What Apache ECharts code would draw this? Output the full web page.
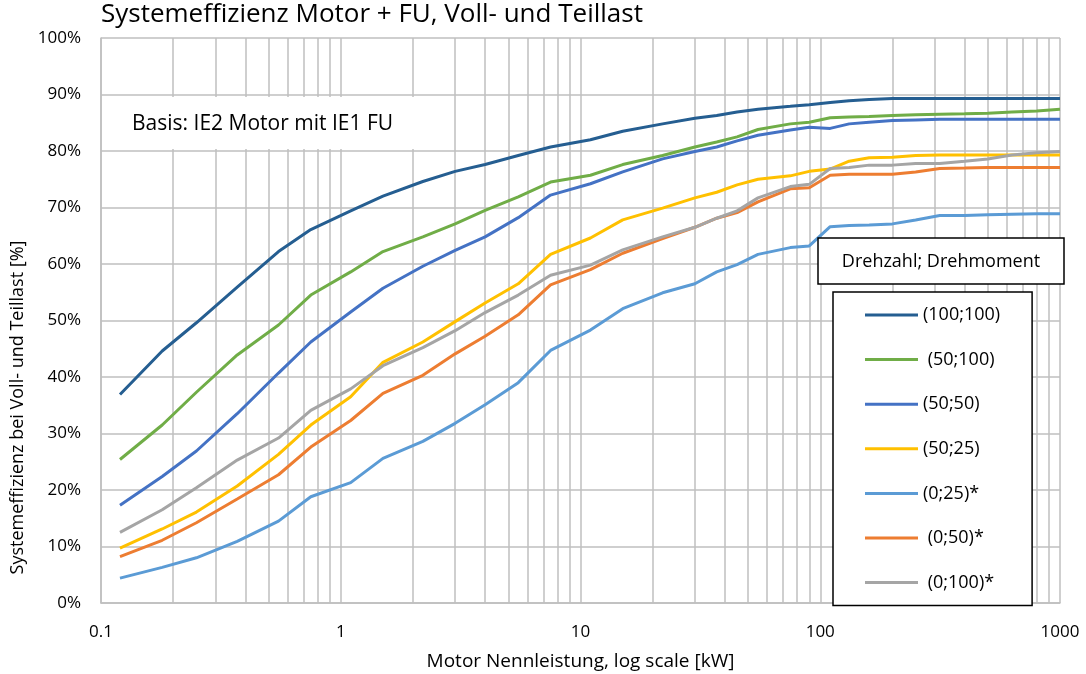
<!DOCTYPE html>
<html>
<head>
<meta charset="utf-8">
<script src="https://cdn.jsdelivr.net/npm/echarts@6/dist/echarts.min.js"></script>
<style>
  html, body { margin: 0; padding: 0; background: #fff; }
  #chart { width: 1086px; height: 674px; }
</style>
</head>
<body>
<div id="chart"></div>
<script>
// Motor-Nennleistung [kW]
const power = [0.12, 0.18, 0.25, 0.37, 0.55, 0.75, 1.1, 1.5, 2.2, 3, 4, 5.5, 7.5, 11, 15, 22, 30, 37, 45, 55, 75, 90, 110, 132, 160, 200, 250, 315, 400, 500, 630, 800, 1000];

// Systemeffizienz [%] je Betriebspunkt (Drehzahl; Drehmoment)
const eff100_100 = [36.9, 44.6, 49.6, 55.9, 62.2, 66.1, 69.4, 72.0, 74.6, 76.4, 77.6, 79.2, 80.7, 82.0, 83.5, 84.8, 85.8, 86.3, 86.9, 87.4, 87.9, 88.2, 88.6, 88.9, 89.1, 89.3, 89.3, 89.3, 89.3, 89.3, 89.3, 89.3, 89.3];
const eff50_100 = [25.4, 31.5, 37.3, 43.9, 49.2, 54.5, 58.6, 62.2, 64.8, 67.1, 69.5, 71.9, 74.5, 75.7, 77.6, 79.2, 80.7, 81.6, 82.5, 83.8, 84.8, 85.1, 85.9, 86.0, 86.1, 86.3, 86.4, 86.5, 86.6, 86.7, 86.9, 87.1, 87.4];
const eff50_50 = [17.3, 22.4, 26.9, 33.5, 40.7, 46.2, 51.5, 55.7, 59.6, 62.4, 64.8, 68.2, 72.2, 74.2, 76.3, 78.6, 79.9, 80.7, 81.8, 82.8, 83.7, 84.2, 84.0, 84.8, 85.1, 85.4, 85.5, 85.6, 85.6, 85.6, 85.6, 85.6, 85.6];
const eff50_25 = [9.7, 13.1, 16.1, 20.7, 26.3, 31.5, 36.5, 42.6, 46.2, 49.8, 53.1, 56.5, 61.7, 64.6, 67.8, 69.9, 71.7, 72.7, 74.0, 75.0, 75.6, 76.4, 76.8, 78.2, 78.8, 78.9, 79.2, 79.3, 79.3, 79.3, 79.3, 79.3, 79.3];
const eff0_25 = [4.4, 6.3, 8.0, 10.9, 14.5, 18.8, 21.3, 25.6, 28.6, 31.8, 35.1, 39.0, 44.7, 48.3, 52.1, 54.9, 56.5, 58.6, 59.9, 61.7, 62.9, 63.2, 66.6, 66.8, 66.9, 67.1, 67.8, 68.6, 68.6, 68.7, 68.8, 68.9, 68.9];
const eff0_50 = [8.2, 11.1, 14.2, 18.4, 22.7, 27.6, 32.3, 37.1, 40.3, 44.1, 47.2, 51.0, 56.3, 59.0, 61.9, 64.5, 66.5, 68.1, 69.1, 71.0, 73.3, 73.5, 75.7, 75.9, 75.9, 75.9, 76.3, 76.9, 77.0, 77.1, 77.1, 77.1, 77.1];
const eff0_100 = [12.5, 16.5, 20.4, 25.3, 29.2, 34.1, 37.9, 42.0, 45.2, 48.2, 51.4, 54.5, 58.0, 59.8, 62.5, 64.8, 66.5, 68.1, 69.4, 71.7, 73.7, 74.1, 76.9, 77.1, 77.5, 77.5, 77.8, 77.8, 78.2, 78.6, 79.3, 79.7, 79.9];

const seriesNames = ['(100;100)', ' (50;100)', '(50;50)', '(50;25)', '(0;25)*', ' (0;50)*', ' (0;100)*'];
const seriesValues = [eff100_100, eff50_100, eff50_50, eff50_25, eff0_25, eff0_50, eff0_100];
const seriesColors = ['#255E91', '#70AD47', '#4472C4', '#FFC000', '#5B9BD5', '#ED7D31', '#A5A5A5'];

// Zwischenlinien der log. Achse (2..9 je Dekade)
const minorTicks = [0.2, 0.3, 0.4, 0.5, 0.6, 0.7, 0.8, 0.9, 2, 3, 4, 5, 6, 7, 8, 9, 20, 30, 40, 50, 60, 70, 80, 90, 200, 300, 400, 500, 600, 700, 800, 900];

const FONT = 'Open Sans';
const gridColor = '#BFBFBF';

const chart = echarts.init(document.getElementById('chart'));

const lineSeries = seriesNames.map((name, i) => ({
  name: name,
  type: 'line',
  data: power.map((p, k) => [p, seriesValues[i][k]]),
  showSymbol: false,
  symbol: 'none',
  lineStyle: { color: seriesColors[i], width: 3 },
  itemStyle: { color: seriesColors[i] },
  z: 3
}));

// Gitterlinien fuer Zwischenwerte
lineSeries.unshift({
  name: 'minor',
  type: 'line',
  data: [],
  z: 1,
  silent: true,
  markLine: {
    z: 1,
    silent: true,
    symbol: 'none',
    label: { show: false },
    lineStyle: { color: gridColor, width: 1.5, type: 'solid' },
    emphasis: { disabled: true },
    data: minorTicks.map(v => ({ xAxis: v }))
  }
});

const option = {
  animation: false,
  backgroundColor: '#fff',
  textStyle: { fontFamily: FONT },
  title: {
    text: 'Systemeffizienz Motor + FU, Voll- und Teillast',
    left: 101,
    top: 2,
    padding: 0,
    textStyle: { fontFamily: FONT, fontSize: 26, fontWeight: 'normal', color: '#000' }
  },
  grid: { left: 101, right: 26, top: 38, bottom: 71, outerBoundsMode: 'none' },
  xAxis: {
    type: 'log',
    logBase: 10,
    min: 0.1,
    max: 1000,
    name: 'Motor Nennleistung, log scale [kW]',
    nameLocation: 'middle',
    nameGap: 49,
    nameTextStyle: { fontFamily: FONT, fontSize: 19, color: '#000' },
    axisLine: { lineStyle: { color: gridColor, width: 1.5 } },
    axisTick: { show: false },
    axisLabel: {
      fontFamily: FONT, fontSize: 17, color: '#000', margin: 21,
      formatter: v => String(v)
    },
    splitLine: { show: true, lineStyle: { color: gridColor, width: 1.5 } }
  },
  yAxis: {
    type: 'value',
    min: 0,
    max: 100,
    interval: 10,
    name: 'Systemeffizienz bei Voll- und Teillast [%]',
    nameLocation: 'middle',
    nameGap: 72,
    nameTextStyle: { fontFamily: FONT, fontSize: 18, color: '#000', padding: [0, 174, 0, 0] },
    axisLine: { show: true, lineStyle: { color: gridColor, width: 1.5 } },
    axisTick: { show: false },
    axisLabel: { fontFamily: FONT, fontSize: 17, color: '#000', margin: 20, formatter: '{value}%' },
    splitLine: { show: true, lineStyle: { color: gridColor, width: 1.5 } }
  },
  legend: {
    data: seriesNames,
    orient: 'vertical',
    left: 833,
    top: 292,
    icon: 'rect',
    itemWidth: 53,
    itemHeight: 3,
    itemGap: 22.6,
    padding: [12, 32, 12, 32],
    backgroundColor: '#fff',
    borderColor: '#000',
    borderWidth: 1.5,
    textStyle: { fontFamily: FONT, fontSize: 18, color: '#000', lineHeight: 22 }
  },
  graphic: [
    {
      type: 'group',
      z: 2,
      children: [
        { type: 'rect', shape: { x: 103, y: 97, width: 316, height: 52 }, style: { fill: '#fff' }, z: 2 },
        { type: 'text', x: 132, y: 124, style: { text: 'Basis: IE2 Motor mit IE1 FU', fontFamily: FONT, fontSize: 21, fill: '#000', verticalAlign: 'middle' }, z: 3 }
      ]
    },
    {
      type: 'group',
      z: 10,
      children: [
        { type: 'rect', shape: { x: 818, y: 238, width: 246, height: 46 }, style: { fill: '#fff', stroke: '#000', lineWidth: 1.5 }, z: 10 },
        { type: 'text', x: 941, y: 262, style: { text: 'Drehzahl; Drehmoment', fontFamily: FONT, fontSize: 18, fill: '#000', align: 'center', verticalAlign: 'middle' }, z: 11 }
      ]
    }
  ],
  series: lineSeries
};

chart.setOption(option);
</script>
</body>
</html>
